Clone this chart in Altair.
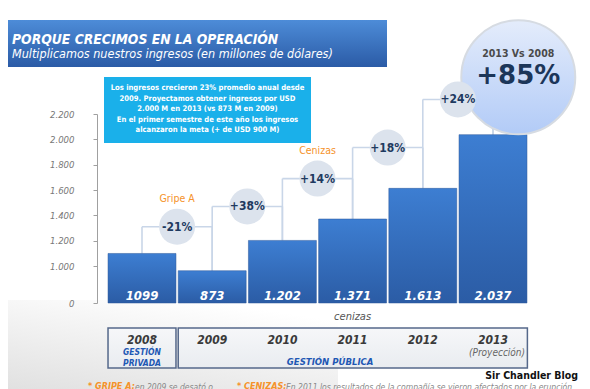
import altair as alt
import pandas as pd

# ---------------- data ----------------
years = ["2008", "2009", "2010", "2011", "2012", "2013"]
revenue = [1099, 873, 1202, 1371, 1613, 2037]
revenue_labels = ["1099", "873", "1.202", "1.371", "1.613", "2.037"]
growth_labels = ["-21%", "+38%", "+14%", "+18%", "+24%"]
connector_levels = [1310, 1470, 1690, 1935, 2315]
event_names = ["Gripe A", "Cenizas"]
event_pairs = [0, 2]
y_ticks = [0, 1000, 1200, 1400, 1600, 1800, 2000, 2200]
info_lines = [
    "Los ingresos crecieron 23% promedio anual desde",
    "2009. Proyectamos obtener ingresos por USD",
    "2.000 M en 2013 (vs 873 M en 2009)",
    "En el primer semestre de este año  los ingresos",
    "alcanzaron la meta (+ de USD  900 M)",
]
title_text = "PORQUE CRECIMOS EN LA OPERACIÓN"
subtitle_text = "Multiplicamos nuestros ingresos (en millones de dólares)"
big_label_top = "2013  Vs 2008"
big_label = "+85%"
big_pos = [5.36, 2490]

FONT = "DejaVu Sans Condensed, DejaVu Sans, sans-serif"

# ---------------- tables ----------------
idx = list(range(len(years)))
bars = pd.DataFrame({"i": idx, "year": years, "value": revenue, "label": revenue_labels})

seg_rows = []
for k in range(len(growth_labels)):
    lv = connector_levels[k]
    seg_rows.append({"x": k, "x2": k, "y": revenue[k], "y2": lv})
    seg_rows.append({"x": k, "x2": k + 1, "y": lv, "y2": lv})
    seg_rows.append({"x": k + 1, "x2": k + 1, "y": lv, "y2": revenue[k + 1]})
seg_rows.append({"x": 5, "x2": 5, "y": revenue[5], "y2": big_pos[1]})
segs = pd.DataFrame(seg_rows)

bubbles = pd.DataFrame({
    "mid": [k + 0.5 for k in range(len(growth_labels))],
    "level": connector_levels,
    "label": growth_labels,
})
events = pd.DataFrame({
    "mid": [p + 0.5 for p in event_pairs],
    "level": [connector_levels[p] for p in event_pairs],
    "label": event_names,
})
big = pd.DataFrame({"x": [big_pos[0]], "y": [big_pos[1]]})
box_df = pd.DataFrame({"a": [-0.484, 0.516], "b": [0.484, 5.49]})
one = pd.DataFrame({"k": [0]})

xs = alt.Scale(domain=[0, 5], range=[134, 485])
ys = alt.Scale(domain=[0, 1000, 2200], range=[295, 258, 106], nice=False)

AX = alt.Axis(
    values=y_ticks, title=None, offset=-89, grid=False, domain=True, ticks=True, zindex=1,
    domainColor="#a0a0a0", domainWidth=1, tickColor="#a0a0a0", tickSize=4, tickWidth=1,
    labelFont=FONT, labelFontStyle="italic", labelFontSize=9.5, labelColor="#787878",
    labelPadding=19,
    labelExpr="replace(format(datum.value, ','), ',', '.')")


def X(f):
    return alt.X(f, type="quantitative", scale=xs, axis=None)


def Y(f):
    return alt.Y(f, type="quantitative", scale=ys, axis=AX)


def grad(c0, c1, x2=0, y2=1, y1=0):
    return alt.Gradient(gradient="linear", x1=0, x2=x2, y1=y1, y2=y2,
                        stops=[alt.GradientStop(color=c0, offset=0),
                               alt.GradientStop(color=c1, offset=1)])


# ---------------- layers ----------------
swoosh = alt.Chart(one).mark_rect(
    fill=grad("#d6d6d6", "#ffffff", x2=0.6, y1=1, y2=0), opacity=0.75
).encode(x=alt.value(-8), x2=alt.value(330), y=alt.value(292), y2=alt.value(381))

banner = alt.Chart(one).mark_rect(fill=grad("#4d8cd8", "#2b5ba6")).encode(
    x=alt.value(-8), x2=alt.value(379), y=alt.value(12), y2=alt.value(59))

title = alt.Chart(one).mark_text(
    text=title_text, font=FONT, fontSize=13.8, fontWeight="bold", fontStyle="italic",
    color="white", align="left", baseline="alphabetic"
).encode(x=alt.value(4), y=alt.value(36))

subtitle = alt.Chart(one).mark_text(
    text=subtitle_text, font=FONT, fontSize=12.5, fontStyle="italic",
    color="white", align="left", baseline="alphabetic"
).encode(x=alt.value(4), y=alt.value(49.5))

info_box = alt.Chart(one).mark_rect(fill="#1ab0ea").encode(
    x=alt.value(96), x2=alt.value(303), y=alt.value(69), y2=alt.value(135))

info_text = alt.Chart(one).mark_text(
    text=info_lines, font=FONT, fontSize=7.6, fontWeight="bold", color="white",
    align="center", baseline="top", lineHeight=10.5
).encode(x=alt.value(199.5), y=alt.value(76))

connectors = alt.Chart(segs).mark_rule(color="#c9d6e8", strokeWidth=1.6).encode(
    x=X("x"), x2="x2:Q", y=Y("y"), y2="y2:Q")

bar_layer = alt.Chart(bars).transform_calculate(
    x0="datum.i - 0.484", x1="datum.i + 0.484", base="0"
).mark_rect(fill=grad("#3d7ed2", "#2b5ca5"), stroke="#2a5699", strokeWidth=0.5).encode(
    x=X("x0"), x2="x1:Q", y=Y("value"), y2="base:Q")

bar_text = alt.Chart(bars).transform_calculate(base="0").mark_text(
    font=FONT, fontSize=13, fontWeight="bold", fontStyle="italic", color="white",
    baseline="alphabetic", dy=-3
).encode(x=X("i"), y=Y("base"), text="label:N")

big_circle = alt.Chart(big).mark_point(
    shape="circle", size=12996, filled=True, opacity=1,
    fill=grad("#e4ecfb", "#b2cbf7"), stroke="#d6dbe2", strokeWidth=2
).encode(x=X("x"), y=Y("y"))

big_text1 = alt.Chart(big).mark_text(
    text=big_label_top, font=FONT, fontSize=10.5, fontWeight="bold", color="#4a4a4a", dy=-23
).encode(x=X("x"), y=Y("y"))

big_text2 = alt.Chart(big).mark_text(
    text=big_label, font="DejaVu Sans, sans-serif", fontSize=26, fontWeight="bold",
    color="#1c3659", dy=-1
).encode(x=X("x"), y=Y("y"))

bubble_layer = alt.Chart(bubbles).mark_circle(size=1296, color="#dce3ed", opacity=1).encode(
    x=X("mid"), y=Y("level"))

bubble_text = alt.Chart(bubbles).mark_text(
    font=FONT, fontSize=12, fontWeight="bold", color="#1e3a60"
).encode(x=X("mid"), y=Y("level"), text="label:N")

event_text = alt.Chart(events).mark_text(
    font=FONT, fontSize=10.5, color="#f5922a", dy=-28
).encode(x=X("mid"), y=Y("level"), text="label:N")

cen_df = pd.DataFrame({"p": [3], "t": ["cenizas"]})
cenizas_small = alt.Chart(cen_df).mark_text(
    font=FONT, fontSize=11, fontStyle="italic", color="#555555"
).encode(x=X("p"), y=alt.value(309), text="t:N")

boxes = alt.Chart(box_df).mark_rect(
    fill=grad("#f6f7f9", "#e9ecf0"), stroke="#55688a", strokeWidth=1.5
).encode(x=X("a"), x2="b:Q", y=alt.value(320), y2=alt.value(360))

year_text = alt.Chart(bars).mark_text(
    font=FONT, fontSize=12, fontWeight="bold", fontStyle="italic", color="#3a3a3a"
).encode(x=X("i"), y=alt.value(332), text="year:N")

priv_df = pd.DataFrame({"p": [0, 0], "t": ["GESTIÓN", "PRIVADA"], "row": [0, 1]})
gestion_priv = alt.Chart(priv_df).transform_calculate(
    yy="344 + datum.row * 11").mark_text(
    font=FONT, fontSize=8.5, fontWeight="bold", fontStyle="italic", color="#1f58b4"
).encode(x=X("p"), y=alt.Y("yy:Q", scale=None), text="t:N")

pub_df = pd.DataFrame({"p": [2.68], "t": ["GESTIÓN PÚBLICA"]})
gestion_pub = alt.Chart(pub_df).mark_text(
    font=FONT, fontSize=9.5, fontWeight="bold", fontStyle="italic", color="#1f58b4"
).encode(x=X("p"), y=alt.value(354), text="t:N")

proy_df = pd.DataFrame({"p": [5], "t": ["(Proyección)"]})
proyeccion = alt.Chart(proy_df).mark_text(
    font=FONT, fontSize=10, fontStyle="italic", color="#666666", dx=4
).encode(x=X("p"), y=alt.value(345), text="t:N")

blog = alt.Chart(one).mark_text(
    text="Sir Chandler Blog", font=FONT, fontSize=10.5, fontWeight="bold",
    color="#111111", align="right"
).encode(x=alt.value(570), y=alt.value(368))

foot1a = alt.Chart(one).mark_text(
    text="* GRIPE A:", font=FONT, fontSize=9, fontWeight="bold", fontStyle="italic",
    color="#f5922a", align="left", baseline="top"
).encode(x=alt.value(80), y=alt.value(374))
foot1b = alt.Chart(one).mark_text(
    text="en 2009 se desató o", font=FONT, fontSize=8.5, fontStyle="italic",
    color="#888888", align="left", baseline="top"
).encode(x=alt.value(127), y=alt.value(375))
foot2a = alt.Chart(one).mark_text(
    text="* CENIZAS:", font=FONT, fontSize=9, fontWeight="bold", fontStyle="italic",
    color="#f5922a", align="left", baseline="top"
).encode(x=alt.value(229), y=alt.value(374))
foot2b = alt.Chart(one).mark_text(
    text="En 2011 los resultados de la compañía se vieron afectados por la erupción",
    font=FONT, fontSize=8.5, fontStyle="italic",
    color="#888888", align="left", baseline="top"
).encode(x=alt.value(278), y=alt.value(375))

chart = alt.layer(
    swoosh,
    banner, title, subtitle, info_box, info_text,
    connectors, bar_layer, bar_text,
    big_circle, big_text1, big_text2,
    bubble_layer, bubble_text, event_text, cenizas_small,
    boxes, year_text, gestion_priv, gestion_pub, proyeccion, blog,
    foot1a, foot1b, foot2a, foot2b,
).properties(
    width=574, height=381, autosize=alt.AutoSizeParams(type="none"), padding=0,
    background="white"
).configure_view(strokeWidth=0)

chart.save("out.html", embed_options={"renderer": "svg", "actions": False})
